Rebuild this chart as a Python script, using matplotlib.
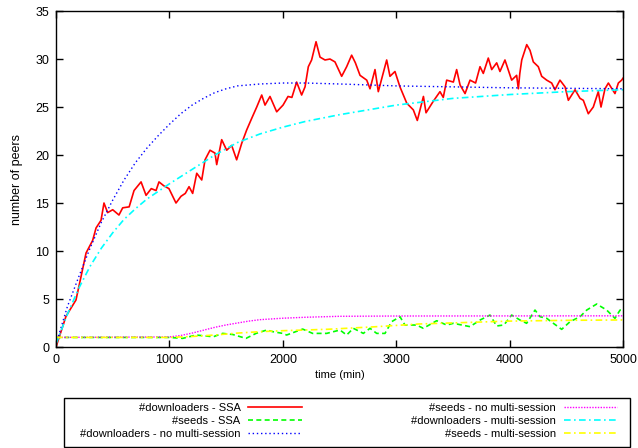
import matplotlib
matplotlib.use("Agg")
import matplotlib.pyplot as plt
from matplotlib.patches import Rectangle

plt.rcParams['font.family'] = ['Liberation Sans', 'DejaVu Sans']

# downloaders - SSA (noisy simulation run)
ssa_dl_t = [0, 88, 176, 220, 265, 323, 353, 397, 423, 455, 500, 555, 588, 645, 688, 750,
            794, 840, 882, 908, 950, 996, 1058, 1102, 1140, 1173, 1205, 1241, 1285, 1314,
            1358, 1402, 1417, 1461, 1505, 1549, 1593, 1637, 1681, 1725, 1770, 1814, 1843,
            1887, 1946, 2002, 2046, 2080, 2122, 2166, 2196, 2225, 2254, 2293, 2328, 2372,
            2416, 2460, 2519, 2563, 2607, 2640, 2681, 2740, 2769, 2813, 2842, 2916, 2945,
            2989, 3033, 3093, 3151, 3186, 3240, 3263, 3327, 3386, 3415, 3445, 3504, 3533,
            3563, 3607, 3651, 3700, 3739, 3768, 3812, 3842, 3886, 3915, 3959, 4018, 4062,
            4077, 4090, 4107, 4151, 4180, 4209, 4253, 4283, 4327, 4371, 4400, 4444, 4489,
            4518, 4577, 4621, 4650, 4694, 4738, 4782, 4806, 4841, 4871, 4929, 4959, 4988, 5000]
ssa_dl_v = [0, 3.2, 4.9, 7.3, 9.8, 11.1, 12.4, 13.2, 15.0, 14.0, 14.3, 13.75, 14.5, 14.6, 16.3, 17.2,
            15.8, 16.5, 16.3, 17.2, 16.8, 16.5, 15.0, 15.7, 16.0, 16.7, 16.0, 18.1, 17.4, 19.5,
            20.5, 20.2, 19.0, 21.6, 20.5, 21.0, 19.5, 21.2, 22.6, 23.8, 25.0, 26.25, 25.2,
            26.1, 24.5, 25.2, 26.1, 26.0, 27.6, 26.25, 27.1, 29.2, 29.9, 31.8, 30.2, 29.9,
            30.0, 29.7, 28.2, 29.2, 30.4, 29.6, 28.3, 27.8, 26.9, 28.9, 26.6, 29.9, 28.2,
            28.7, 27.1, 25.4, 24.7, 23.6, 26.1, 24.4, 25.6, 26.6, 26.0, 27.8, 27.6, 28.9,
            27.3, 26.4, 27.8, 27.5, 29.2, 28.5, 30.1, 28.9, 29.6, 28.7, 29.9, 27.8, 28.3,
            26.9, 28.5, 29.9, 31.5, 30.9, 29.7, 29.2, 28.2, 27.8, 27.5, 26.8, 27.8, 27.1,
            25.7, 26.8, 25.9, 25.7, 24.3, 25.0, 26.6, 25.0, 26.9, 27.5, 26.4, 27.5, 27.8, 28.0]

# seeds - SSA
ssa_sd_t = [0, 1000, 1117, 1235, 1387, 1470, 1560, 1675, 1764, 1858, 1911, 1999, 2034, 2175,
            2263, 2351, 2387, 2504, 2563, 2622, 2710, 2769, 2828, 2901, 2960, 3033, 3077,
            3180, 3239, 3357, 3445, 3504, 3651, 3739, 3827, 3886, 3950, 4018, 4092, 4150,
            4224, 4268, 4327, 4386, 4459, 4533, 4621, 4680, 4768, 4856, 4929, 4974, 5000]
ssa_sd_v = [1.0, 1.0, 0.9, 1.25, 1.07, 1.42, 1.3, 0.9, 1.42, 1.77, 1.6, 1.42, 1.25, 1.87,
            1.42, 1.42, 1.42, 1.77, 1.25, 1.95, 1.42, 1.95, 1.42, 1.42, 2.64, 3.16, 2.29,
            2.29, 1.95, 2.74, 2.29, 2.47, 2.12, 2.81, 3.33, 2.19, 2.3, 3.33, 2.81, 2.47,
            3.85, 3.16, 2.99, 2.47, 1.84, 2.64, 3.16, 3.85, 4.48, 3.85, 2.99, 3.85, 3.9]

# downloaders - no multi-session
nms_dl_t = [0, 100, 200, 300, 400, 500, 600, 700, 800, 900, 1000, 1100, 1200, 1300, 1400,
            1500, 1600, 1800, 2000, 2200, 2500, 3000, 3500, 4000, 4500, 5000]
nms_dl_v = [0.3, 4.2, 7.3, 10.3, 13.0, 15.3, 17.4, 19.2, 20.7, 22.0, 23.2, 24.3, 25.2, 25.9, 26.5,
            26.9, 27.2, 27.4, 27.5, 27.5, 27.4, 27.2, 27.1, 27.0, 26.95, 26.9]

# seeds - no multi-session
nms_sd_t = [0, 1000, 1100, 1200, 1300, 1400, 1500, 1600, 1700, 1800, 2000, 2200, 2500, 3000, 5000]
nms_sd_v = [1.0, 1.05, 1.2, 1.45, 1.75, 2.05, 2.3, 2.5, 2.7, 2.85, 3.0, 3.1, 3.2, 3.23, 3.25]

# downloaders - multi-session
ms_dl_t = [0, 100, 200, 300, 400, 500, 600, 700, 800, 900, 1000, 1200, 1400, 1600, 1800,
           2000, 2200, 2500, 3000, 3500, 4000, 4500, 5000]
ms_dl_v = [0.3, 3.4, 6.1, 8.4, 10.3, 11.9, 13.3, 14.4, 15.4, 16.2, 17.0, 18.5, 20.0, 21.3, 22.2,
           22.9, 23.5, 24.2, 25.2, 25.9, 26.3, 26.6, 26.8]

# seeds - multi-session
ms_sd_t = [0, 1000, 1200, 1400, 1600, 1800, 2000, 2400, 2800, 3200, 3600, 4000, 4500, 5000]
ms_sd_v = [1.0, 1.0, 1.1, 1.25, 1.45, 1.6, 1.7, 1.85, 2.1, 2.4, 2.55, 2.7, 2.78, 2.82]

x_ticks = [0, 1000, 2000, 3000, 4000, 5000]
y_ticks = [0, 5, 10, 15, 20, 25, 30, 35]

fig = plt.figure(figsize=(6.38, 4.48), dpi=100)
ax = fig.add_axes([0.0878, 0.2254, 0.8887, 0.7500])

ax.plot(ssa_dl_t, ssa_dl_v, color='#ff0000', lw=1.2, label='#downloaders - SSA')
ax.plot(ssa_sd_t, ssa_sd_v, color='#00ff00', lw=1.2, dashes=(3, 2), label='#seeds - SSA')
ax.plot(nms_dl_t, nms_dl_v, color='#0000ff', lw=1.0, dashes=(1, 2), label='#downloaders - no multi-session')
ax.plot(nms_sd_t, nms_sd_v, color='#ff00ff', lw=1.0, dashes=(1, 1), label='#seeds - no multi-session')
ax.plot(ms_dl_t, ms_dl_v, color='#00ffff', lw=1.2, dashes=(4, 2, 1, 2), label='#downloaders - multi-session')
ax.plot(ms_sd_t, ms_sd_v, color='#ffff00', lw=1.2, dashes=(4, 2, 1, 2), label='#seeds - multi-session')

ax.set_xlim(0, 5000)
ax.set_ylim(0, 35)
ax.set_xticks(x_ticks)
ax.set_yticks(y_ticks)
ax.tick_params(direction='in', length=5, width=1, top=True, right=True, labelsize=9, pad=5)
for s in ax.spines.values():
    s.set_linewidth(1.0)
ax.set_xlabel('time (min)', fontsize=8, labelpad=3)
ax.set_ylabel('number of peers', fontsize=9, labelpad=9)

# legend box drawn separately so the entries can sit inside with gnuplot-like padding
fig.patches.append(Rectangle((0.1003, 0.0022), 0.8872, 0.1094, transform=fig.transFigure,
                             facecolor='none', edgecolor='black', lw=1.0, zorder=-1))
leg = ax.legend(loc='center', ncol=2, mode='expand', markerfirst=False,
                bbox_to_anchor=(0.1254, 0.0103, 0.8417, 0.1), bbox_transform=fig.transFigure,
                fontsize=8, frameon=False, handlelength=4.8, handletextpad=0.7,
                labelspacing=0.25, borderaxespad=0, borderpad=0, columnspacing=2)

fig.savefig('out.png', dpi=100)
